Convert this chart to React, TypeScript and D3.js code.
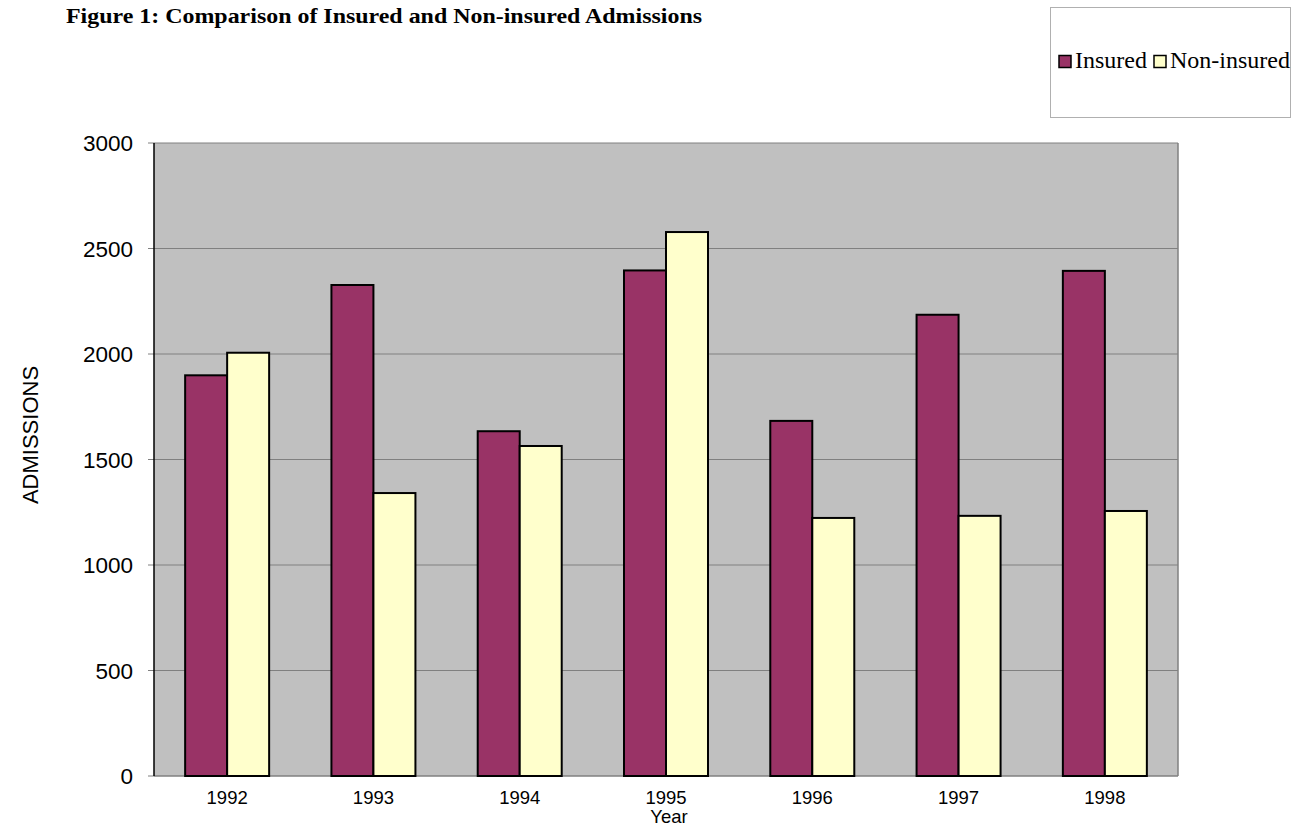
import React from "react";
import * as d3 from "d3";

const years = ["1992", "1993", "1994", "1995", "1996", "1997", "1998"];
const insured = [1899, 2327, 1634, 2396, 1683, 2186, 2394];
const nonInsured = [2006, 1341, 1564, 2578, 1223, 1233, 1256];
const yTicks = [0, 500, 1000, 1500, 2000, 2500, 3000];
const seriesNames = ["Insured", "Non-insured"];
const seriesColors = ["#993366", "#FFFFCC"];

export default function App() {
  const W = 1310, H = 828;
  const left = 154, right = 1178, top = 143, bottom = 776;
  const x = d3.scaleBand().domain(years).range([left, right]);
  const y = d3.scaleLinear().domain([0, 3000]).range([bottom, top]);
  const barW = 42;
  const series = [insured, nonInsured];
  const legendX = [1058, 1153];
  return (
    <svg width={W} height={H} style={{ position: "absolute", left: 0, top: 0 }}>
      <rect x={0} y={0} width={W} height={H} fill="#fff" />
      <text x={66} y={23} fontFamily="Liberation Serif, Times New Roman, serif" fontWeight="bold" fontSize={22}
        textLength={636} lengthAdjust="spacingAndGlyphs">
        Figure 1: Comparison of Insured and Non-insured Admissions
      </text>
      {/* legend */}
      <rect x={1050.5} y={7.5} width={240} height={110} fill="#fff" stroke="#b0b0b0" strokeWidth={1} />
      {seriesNames.map((n, i) => {
        const lx = legendX[i];
        return (
          <g key={n}>
            <rect x={lx + 1} y={55.5} width={12} height={12} fill={seriesColors[i]} stroke="#000" strokeWidth={1.5} />
            <text x={lx + 17} y={68} fontFamily="Liberation Serif, Times New Roman, serif" fontSize={24}>{n}</text>
          </g>
        );
      })}
      {/* plot area */}
      <rect x={left} y={top} width={right - left} height={bottom - top} fill="#C0C0C0" />
      {yTicks.map((t) => (
        <g key={t}>
          {t > 0 && <line x1={left} x2={right} y1={y(t)} y2={y(t)} stroke="#808080" strokeWidth={1} />}
          <line x1={left - 6} x2={left} y1={y(t)} y2={y(t)} stroke="#808080" strokeWidth={1} />
          <text x={133} y={y(t) + 8} textAnchor="end" fontFamily="Liberation Sans, Arial, sans-serif" fontSize={22.5}>{t}</text>
        </g>
      ))}
      <line x1={right} x2={right} y1={top} y2={bottom} stroke="#808080" strokeWidth={1.5} />
      <line x1={left} x2={right} y1={bottom} y2={bottom} stroke="#808080" strokeWidth={1.5} />
      {years.map((yr, i) => {
        const c = (x(yr) as number) + x.bandwidth() / 2;
        return (
          <g key={yr}>
            {series.map((s, k) => (
              <rect key={k} x={c - barW + k * barW} y={y(s[i])} width={barW} height={bottom - y(s[i])}
                fill={seriesColors[k]} stroke="#000" strokeWidth={2} />
            ))}
            <text x={c} y={804} textAnchor="middle" fontFamily="Liberation Sans, Arial, sans-serif" fontSize={18.5}>{yr}</text>
          </g>
        );
      })}
      <line x1={left} x2={left} y1={top} y2={bottom} stroke="#000" strokeWidth={1.5} />
      <text x={669} y={823} textAnchor="middle" fontFamily="Liberation Sans, Arial, sans-serif" fontSize={18.5}>Year</text>
      <text transform="translate(38,435) rotate(-90)" textAnchor="middle" fontFamily="Liberation Sans, Arial, sans-serif" fontSize={22}>ADMISSIONS</text>
    </svg>
  );
}
